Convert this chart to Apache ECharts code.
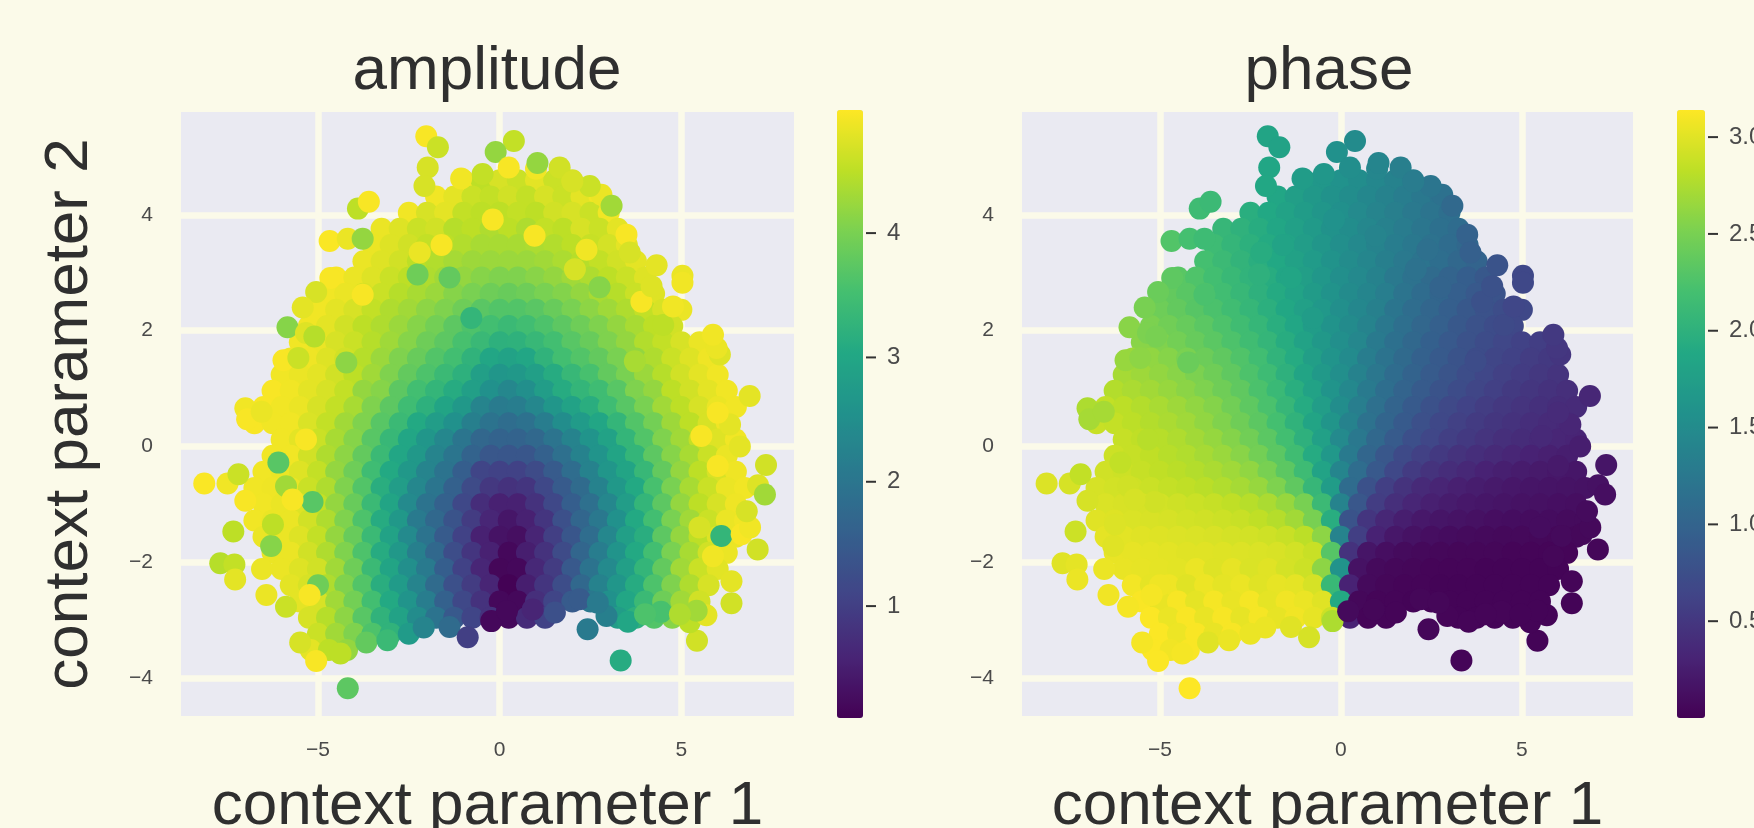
<!DOCTYPE html>
<html><head><meta charset="utf-8">
<style>html,body{margin:0;padding:0;background:#fbfae9;overflow:hidden}#c{width:1754px;height:828px}</style>
<script src="https://cdn.jsdelivr.net/npm/echarts@6/dist/echarts.min.js"></script>
</head><body><div id="c"></div>
<script>
// Each row: [context parameter 1, amplitude, phase].
const rowYs=[4.6,4.32,4.04,3.76,3.48,3.2,2.92,2.64,2.36,2.08,1.8,1.52,1.24,.96,.68,.4,.12,-.16,-.44,-.72,-1,-1.28,-1.56,-1.84,-2.12,-2.4,-2.68,-2.96,-3.24,-3.52];
const r00=[[-1,4.9,1.72],[-.5,4.5,1.65],[0,4.7,1.58],[.5,4.6,1.52],[1,4.8,1.45],[1.5,4.6,1.38],[2,4.7,1.32]];
const r01=[[-1.75,4.9,1.86],[-1.25,4.8,1.75],[-.75,4.6,1.67],[-.25,4.55,1.59],[.25,4.65,1.52],[.75,4.55,1.45],[1.25,4.7,1.38],[1.75,4.6,1.32],[2.25,4.8,1.25],[2.75,4.9,1.19]];
const r02=[[-2.5,4.9,1.96],[-2,4.7,1.88],[-1.5,4.8,1.8],[-1,4.55,1.72],[-.5,4.5,1.64],[0,4.5,1.56],[.5,4.55,1.48],[1,4.5,1.41],[1.5,4.65,1.34],[2,4.7,1.27],[2.5,4.6,1.21],[3,4.9,1.14]];
const r03=[[-3.25,4.85,2.08],[-2.75,4.75,2.01],[-2.25,4.6,1.94],[-1.75,4.65,1.85],[-1.25,4.45,1.77],[-.75,4.5,1.69],[-.25,4.4,1.59],[.25,4.5,1.52],[.75,4.4,1.44],[1.25,4.55,1.37],[1.75,4.5,1.3],[2.25,4.7,1.23],[2.75,4.6,1.16],[3.25,4.8,1.1]];
const r04=[[-3.5,4.85,2.14],[-3,4.75,2.06],[-2.5,4.65,1.99],[-2,4.55,1.91],[-1.5,4.5,1.82],[-1,4.42,1.73],[-.5,4.35,1.64],[0,4.35,1.55],[.5,4.35,1.47],[1,4.38,1.4],[1.5,4.42,1.32],[2,4.5,1.25],[2.5,4.58,1.18],[3,4.68,1.11],[3.5,4.8,1.05]];
const r05=[[-3.75,4.85,2.2],[-3.25,4.75,2.12],[-2.75,4.65,2.04],[-2.25,4.5,1.97],[-1.75,4.42,1.88],[-1.25,4.33,1.79],[-.75,4.27,1.7],[-.25,4.25,1.6],[.25,4.25,1.51],[.75,4.25,1.43],[1.25,4.3,1.35],[1.75,4.38,1.27],[2.25,4.45,1.2],[2.75,4.55,1.13],[3.25,4.65,1.06],[3.75,4.8,1]];
const r06=[[-4.5,4.95,2.32],[-4,4.85,2.26],[-3.5,4.75,2.18],[-3,4.6,2.1],[-2.5,4.5,2.03],[-2,4.4,1.94],[-1.5,4.3,1.84],[-1,4.2,1.75],[-.5,4.1,1.65],[0,4.05,1.55],[.5,4.05,1.47],[1,4.12,1.38],[1.5,4.2,1.27],[2,4.3,1.18],[2.5,4.4,1.09],[3,4.5,1],[3.5,4.6,.93],[4,4.75,.86]];
const r07=[[-4.75,4.9,2.38],[-4.25,4.85,2.32],[-3.75,4.7,2.25],[-3.25,4.6,2.17],[-2.75,4.45,2.09],[-2.25,4.35,2],[-1.75,4.25,1.91],[-1.25,4.1,1.81],[-.75,4,1.71],[-.25,3.9,1.6],[.25,3.85,1.5],[.75,3.9,1.42],[1.25,4,1.33],[1.75,4.08,1.2],[2.25,4.2,1.1],[2.75,4.35,1.02],[3.25,4.45,.94],[3.75,4.6,.87],[4.25,4.75,.8]];
const r08=[[-5,4.9,2.44],[-4.5,4.8,2.38],[-4,4.7,2.31],[-3.5,4.55,2.24],[-3,4.4,2.16],[-2.5,4.3,2.07],[-2,4.15,1.98],[-1.5,4.05,1.87],[-1,3.9,1.77],[-.5,3.72,1.66],[0,3.65,1.55],[.5,3.65,1.45],[1,3.72,1.36],[1.5,3.85,1.22],[2,4,1.12],[2.5,4.15,1.03],[3,4.28,.94],[3.5,4.4,.86],[4,4.55,.79],[4.5,4.7,.73],[5,4.85,.67]];
const r09=[[-5.25,4.9,2.52],[-4.75,4.8,2.46],[-4.25,4.65,2.4],[-3.75,4.5,2.33],[-3.25,4.4,2.25],[-2.75,4.25,2.16],[-2.25,4.1,2.07],[-1.75,3.95,1.96],[-1.25,3.75,1.85],[-.75,3.6,1.72],[-.25,3.5,1.6],[.25,3.4,1.5],[.75,3.48,1.4],[1.25,3.6,1.25],[1.75,3.75,1.14],[2.25,3.9,1.04],[2.75,4.05,.95],[3.25,4.2,.86],[3.75,4.35,.79],[4.25,4.5,.72],[4.75,4.65,.67]];
const r10=[[-5.5,4.9,2.58],[-5,4.85,2.54],[-4.5,4.7,2.47],[-4,4.6,2.4],[-3.5,4.45,2.33],[-3,4.28,2.25],[-2.5,4.1,2.16],[-2,3.9,2.06],[-1.5,3.75,1.94],[-1,3.55,1.8],[-.5,3.38,1.67],[0,3.2,1.55],[.5,3.22,1.44],[1,3.35,1.28],[1.5,3.5,1.16],[2,3.7,1.06],[2.5,3.85,.96],[3,4.05,.87],[3.5,4.2,.79],[4,4.42,.72],[4.5,4.55,.66],[5,4.7,.61],[5.5,4.85,.57]];
const r11=[[-5.75,4.9,2.68],[-5.25,4.88,2.62],[-4.75,4.75,2.57],[-4.25,4.65,2.51],[-3.75,4.45,2.43],[-3.25,4.25,2.36],[-2.75,4.05,2.27],[-2.25,3.85,2.17],[-1.75,3.65,2.03],[-1.25,3.5,1.92],[-.75,3.25,1.75],[-.25,3,1.61],[.25,2.9,1.49],[.75,3,1.32],[1.25,3.25,1.19],[1.75,3.5,1.08],[2.25,3.65,.97],[2.75,3.8,.88],[3.25,4,.8],[3.75,4.2,.72],[4.25,4.4,.65],[4.75,4.6,.61],[5.25,4.75,.56],[5.75,4.88,.52]];
const r12=[[-6,4.9,2.72],[-5.5,4.85,2.68],[-5,4.8,2.63],[-4.5,4.65,2.58],[-4,4.5,2.52],[-3.5,4.3,2.45],[-3,4.05,2.36],[-2.5,3.8,2.25],[-2,3.6,2.14],[-1.5,3.4,2],[-1,3.2,1.83],[-.5,2.85,1.68],[0,2.65,1.54],[.5,2.7,1.38],[1,2.85,1.24],[1.5,3.1,1.1],[2,3.35,.99],[2.5,3.55,.89],[3,3.8,.81],[3.5,4,.73],[4,4.25,.66],[4.5,4.45,.6],[5,4.65,.55],[5.5,4.8,.51],[6,4.9,.47]];
const r13=[[-6.25,4.95,2.78],[-5.75,4.9,2.74],[-5.25,4.8,2.7],[-4.75,4.7,2.65],[-4.25,4.55,2.59],[-3.75,4.2,2.53],[-3.25,4.1,2.45],[-2.75,3.75,2.36],[-2.25,3.5,2.24],[-1.75,3.3,2.11],[-1.25,3.1,1.96],[-.75,2.85,1.8],[-.25,2.55,1.61],[.25,2.35,1.46],[.75,2.5,1.28],[1.25,2.8,1.13],[1.75,3.1,1],[2.25,3.3,.89],[2.75,3.45,.8],[3.25,3.7,.72],[3.75,4.05,.65],[4.25,4.2,.59],[4.75,4.5,.53],[5.25,4.65,.49],[5.75,4.8,.45],[6.25,4.9,.42]];
const r14=[[-6.5,4.95,2.85],[-6,4.9,2.82],[-5.5,4.85,2.78],[-5,4.7,2.73],[-4.5,4.55,2.68],[-4,4.35,2.62],[-3.5,4.05,2.56],[-3,3.75,2.46],[-2.5,3.45,2.35],[-2,3.2,2.23],[-1.5,2.95,2.08],[-1,2.7,1.92],[-.5,2.3,1.73],[0,2.12,1.52],[.5,2.15,1.33],[1,2.35,1.15],[1.5,2.65,1],[2,2.9,.88],[2.5,3.15,.78],[3,3.45,.69],[3.5,3.7,.62],[4,4,.56],[4.5,4.3,.51],[5,4.5,.47],[5.5,4.7,.43],[6,4.85,.4],[6.5,4.9,.38]];
const r15=[[-6.75,4.95,2.88],[-6.25,4.9,2.86],[-5.75,4.9,2.82],[-5.25,4.72,2.78],[-4.75,4.55,2.74],[-4.25,4.3,2.69],[-3.75,4.05,2.62],[-3.25,3.7,2.54],[-2.75,3.4,2.45],[-2.25,3.05,2.34],[-1.75,2.8,2.2],[-1.25,2.55,2.02],[-.75,2.2,1.83],[-.25,1.95,1.63],[.25,1.85,1.38],[.75,1.92,1.18],[1.25,2.15,1.02],[1.75,2.47,.88],[2.25,2.75,.77],[2.75,3,.68],[3.25,3.3,.6],[3.75,3.65,.54],[4.25,3.95,.49],[4.75,4.27,.45],[5.25,4.5,.41],[5.75,4.7,.38],[6.25,4.88,.36]];
const r16=[[-6,4.9,2.87],[-5.5,4.8,2.84],[-5,4.6,2.8],[-4.5,4.35,2.76],[-4,4.1,2.7],[-3.5,3.7,2.64],[-3,3.35,2.56],[-2.5,3,2.46],[-2,2.65,2.33],[-1.5,2.35,2.18],[-1,2,2],[-.5,1.72,1.78],[0,1.65,1.48],[.5,1.65,1.26],[1,1.75,1.06],[1.5,1.98,.9],[2,2.28,.76],[2.5,2.6,.66],[3,2.9,.58],[3.5,3.3,.52],[4,3.65,.47],[4.5,4.05,.42],[5,4.3,.39],[5.5,4.55,.36],[6,4.75,.33],[6.5,4.9,.31]];
const r17=[[-6.25,4.9,2.9],[-5.75,4.9,2.87],[-5.25,4.65,2.84],[-4.75,4.4,2.8],[-4.25,4.15,2.77],[-3.75,3.8,2.72],[-3.25,3.4,2.66],[-2.75,3,2.58],[-2.25,2.7,2.47],[-1.75,2.3,2.33],[-1.25,2,2.16],[-.75,1.65,1.92],[-.25,1.42,1.66],[.25,1.4,1.28],[.75,1.4,1.03],[1.25,1.6,.85],[1.75,1.9,.7],[2.25,2.25,.6],[2.75,2.6,.52],[3.25,2.95,.46],[3.75,3.3,.41],[4.25,3.75,.37],[4.75,4.1,.33],[5.25,4.35,.3],[5.75,4.6,.28],[6.25,4.85,.26]];
const r18=[[-6.5,4.9,2.92],[-6,4.85,2.9],[-5.5,4.75,2.87],[-5,4.55,2.84],[-4.5,4.2,2.81],[-4,3.9,2.78],[-3.5,3.45,2.74],[-3,3.05,2.69],[-2.5,2.7,2.62],[-2,2.3,2.5],[-1.5,1.95,2.34],[-1,1.55,2.14],[-.5,1.1,1.82],[0,1.05,1.42],[.5,1.05,1.12],[1,1.2,.87],[1.5,1.5,.68],[2,1.85,.54],[2.5,2.25,.46],[3,2.65,.4],[3.5,2.95,.35],[4,3.35,.3],[4.5,3.8,.27],[5,4.2,.24],[5.5,4.5,.22],[6,4.7,.2],[6.5,4.88,.19]];
const r19=[[-6.75,4.9,2.95],[-6.25,4.88,2.93],[-5.75,4.85,2.91],[-5.25,4.6,2.89],[-4.75,4.4,2.86],[-4.25,4.05,2.84],[-3.75,3.65,2.81],[-3.25,3.15,2.77],[-2.75,2.8,2.72],[-2.25,2.35,2.65],[-1.75,2,2.53],[-1.25,1.6,2.36],[-.75,1.2,2.08],[-.25,.9,1.72],[.25,.8,1.1],[.75,.85,.78],[1.25,1.15,.58],[1.75,1.5,.46],[2.25,1.8,.37],[2.75,2.25,.32],[3.25,2.7,.28],[3.75,3.05,.25],[4.25,3.55,.22],[4.75,4,.2],[5.25,4.35,.18],[5.75,4.6,.17],[6.25,4.85,.16],[6.75,4.9,.15]];
const r20=[[-6.5,4.9,2.97],[-6,4.85,2.96],[-5.5,4.75,2.95],[-5,4.55,2.93],[-4.5,4.2,2.91],[-4,3.85,2.89],[-3.5,3.4,2.87],[-3,2.95,2.84],[-2.5,2.4,2.8],[-2,1.95,2.74],[-1.5,1.6,2.65],[-1,1.15,2.5],[-.5,.72,2.12],[0,.55,1.4],[.5,.55,.85],[1,.8,.56],[1.5,1.15,.42],[2,1.55,.33],[2.5,1.9,.28],[3,2.35,.24],[3.5,2.8,.21],[4,3.3,.19],[4.5,3.75,.17],[5,4.2,.15],[5.5,4.5,.14],[6,4.7,.13],[6.5,4.88,.12]];
const r21=[[-6.75,4.9,3],[-6.25,4.85,2.99],[-5.75,4.85,2.97],[-5.25,4.65,2.96],[-4.75,4.4,2.95],[-4.25,4.05,2.93],[-3.75,3.6,2.92],[-3.25,3.1,2.9],[-2.75,2.7,2.88],[-2.25,2.1,2.84],[-1.75,1.75,2.79],[-1.25,1.35,2.7],[-.75,.95,2.5],[-.25,.62,1.95],[.25,.4,.8],[.75,.55,.48],[1.25,.85,.34],[1.75,1.3,.26],[2.25,1.7,.21],[2.75,2.05,.18],[3.25,2.55,.16],[3.75,3.05,.14],[4.25,3.5,.12],[4.75,4,.11],[5.25,4.3,.1],[5.75,4.6,.1],[6.25,4.85,.09],[6.75,4.9,.09]];
const r22=[[-6.5,4.85,3.02],[-6,4.85,3.01],[-5.5,4.75,3],[-5,4.55,2.99],[-4.5,4.2,2.98],[-4,3.85,2.97],[-3.5,3.4,2.96],[-3,2.9,2.94],[-2.5,2.4,2.93],[-2,1.95,2.91],[-1.5,1.5,2.88],[-1,1.05,2.82],[-.5,.55,2.6],[0,.35,1.4],[.5,.3,.58],[1,.6,.3],[1.5,1,.2],[2,1.4,.15],[2.5,1.85,.12],[3,2.35,.1],[3.5,2.85,.09],[4,3.15,.08],[4.5,3.75,.07],[5,4.2,.07],[5.5,4.5,.06],[6,4.75,.06],[6.5,4.85,.06]];
const r23=[[-6.25,4.85,3.04],[-5.75,4.85,3.03],[-5.25,4.65,3.02],[-4.75,4.4,3.01],[-4.25,4.05,3],[-3.75,3.6,3],[-3.25,3.1,2.99],[-2.75,2.7,2.98],[-2.25,2.2,2.97],[-1.75,1.75,2.96],[-1.25,1.25,2.93],[-.75,.85,2.88],[-.25,.55,2.3],[.25,.2,.45],[.75,.5,.18],[1.25,.8,.12],[1.75,1.2,.09],[2.25,1.7,.07],[2.75,2.15,.06],[3.25,2.6,.05],[3.75,3.05,.05],[4.25,3.5,.05],[4.75,4,.04],[5.25,4.35,.04],[5.75,4.65,.04],[6.25,4.85,.04]];
const r24=[[-6,4.85,3.04],[-5.5,4.75,3.03],[-5,4.65,3.02],[-4.5,4.3,3.01],[-4,3.9,3.05],[-3.5,3.4,2.99],[-3,2.95,3.03],[-2.5,2.5,2.97],[-2,2.1,3],[-1.5,1.55,2.94],[-1,1.05,2.9],[-.5,.62,2.6],[0,.18,1.6],[.5,.2,.15],[1,.65,.08],[1.5,.95,.06],[2,1.45,.05],[2.5,1.95,.04],[3,2.4,.04],[3.5,2.85,.04],[4,3.3,.03],[4.5,3.8,.03],[5,4.3,.03],[5.5,4.6,.03],[6,4.78,.03]];
const r25=[[-5.75,4.8,3.09],[-5.25,4.7,3.02],[-4.75,4.4,3.07],[-4.25,4.05,3],[-3.75,3.65,3.06],[-3.25,3.15,3.02],[-2.75,2.75,3.05],[-2.25,2.3,3],[-1.75,1.8,3.03],[-1.25,1.3,3.02],[-.75,.95,2.95],[-.25,.6,2.1],[.25,.12,.3],[.75,.5,.08],[1.25,.85,.05],[1.75,1.25,.04],[2.25,1.75,.04],[2.75,2.25,.03],[3.25,2.65,.03],[3.75,3.1,.03],[4.25,3.6,.03],[4.75,4.05,.03],[5.25,4.4,.03],[5.75,4.7,.03]];
const r26=[[-5.5,4.8,3.12],[-5,4.7,3.04],[-4.5,4.3,3.11],[-4,3.95,3.02],[-3.5,3.5,3.1],[-3,3.05,3.04],[-2.5,2.6,3.1],[-2,2.15,3.02],[-1.5,1.6,3.08],[-1,1.15,3.05],[-.5,.8,3],[0,.2,1.9],[.5,.2,.06],[1,.75,.04],[1.5,1.1,.04],[2,1.5,.03],[2.5,2.05,.03],[3,2.55,.03],[3.5,3,.03],[4,3.4,.03],[4.5,3.9,.03],[5,4.3,.03],[5.5,4.65,.03]];
const r27=[[-5.25,4.7,3.13],[-4.75,4.45,3.05],[-4.25,4.15,3.12],[-3.75,3.7,3.04],[-3.25,3.25,3.11],[-2.75,2.9,3.03],[-2.25,2.45,3.1],[-1.75,1.95,3.03],[-1.25,1.45,3.08],[-.75,1.1,3.03],[-.25,.8,2.9],[.25,.2,.3],[.75,.7,.04],[1.25,1.05,.04],[3.25,2.8,.03],[3.75,3.2,.03],[4.25,3.65,.03],[4.75,4.1,.03],[5.25,4.5,.03]];
const r28=[[-5,4.6,3.13],[-4.5,4.3,3.06],[-4,4.05,3.12],[-3.5,3.6,3.04],[-3,3.25,3.11],[-2.5,2.75,3.05]];
const r29=[[-5.2,4.8,3.13],[-4.7,4.5,3.08],[-4.2,4.2,3.12]];
const rows=[r00,r01,r02,r03,r04,r05,r06,r07,r08,r09,r10,r11,r12,r13,r14,r15,r16,r17,r18,r19,r20,r21,r22,r23,r24,r25,r26,r27,r28,r29];
// Individually visible dots: [x, y, amplitude, phase]
const innerDots=[[-2.26,2.97,3.9,2],[-1.38,2.92,3.8,1.84],[-1.6,3.48,4.95,1.82],[-2.2,3.35,4.85,1.94],[.96,3.64,4.95,1.41],[-.78,2.22,3.3,1.72],[-.19,3.92,4.95,1.58],[2.39,3.4,4.9,1.15],[2.07,3.06,4.7,1.18],[-3.77,2.62,4.95,2.23],[-5.88,-.69,4.3,2.92],[-6.29,-1.72,4.1,3],[-5,-2.4,3.9,3.07],[-5.15,-.96,3.7,2.92],[-6.24,-1.35,4.5,2.98],[-5.33,.12,4.95,2.8],[-5.7,-.92,4.95,2.95],[-5.23,-2.57,4.95,3.1],[6.1,-1.55,3.3,.08],[5.87,-1.9,4.9,.05],[6,-.34,4.95,.22],[5.55,.18,4.95,.36],[5.5,-1.4,4.7,.1],[3.72,1.47,4.35,.72],[4.5,2.1,4.5,.7],[2.75,2.75,4.1,1],[-4.22,1.45,4.15,2.42]];
const topDots=[[-2.02,5.36,4.95,1.83],[-1.7,5.17,4.6,1.8],[-1.98,4.82,4.7,1.85],[-2.07,4.5,4.7,1.87],[.39,5.28,4.55,1.5],[-.11,5.09,4.2,1.57],[1,4.8,4.9,1.43],[1.04,4.9,4.2,1.42],[1.65,4.82,4.65,1.34],[.25,4.82,4.95,1.53],[-.47,4.71,4.55,1.65],[-1.06,4.63,4.9,1.72],[2.8,4.35,4.85,1.17],[2.48,4.5,4.6,1.22],[2,4.58,4.7,1.3],[3.08,4.16,4.3,1.07],[-3.9,4.11,4.5,2.15],[-3.6,4.23,4.95,2.12]];
const leftDots=[[-4.68,3.55,4.97,2.28],[-4.18,3.59,4.85,2.2],[-3.77,3.59,4.2,2.14],[-4.66,2.91,4.95,2.35],[-5.05,2.67,4.7,2.42],[-5.42,2.4,4.8,2.5],[-5.84,2.06,4.1,2.58],[-5.33,1.96,4.75,2.52],[-5.1,1.9,4.45,2.5],[-5.95,1.49,4.95,2.65],[-5.54,1.53,4.6,2.6],[-7,.66,4.9,2.75],[-6.95,.47,4.95,2.72],[-6.55,.6,4.85,2.72],[-8.13,-.64,4.97,2.98],[-7.49,-.64,4.9,2.95],[-7.19,-.48,4.6,2.85],[-7,-.94,4.95,2.95],[-7.33,-1.47,4.5,2.9],[-7.69,-2.02,4.45,3],[-7.3,-2.04,4.55,3.02],[-7.28,-2.3,4.8,3.05],[-6.42,-2.57,4.85,3.08],[-6.54,-2.12,4.85,3.05],[-6.09,-.28,3.7,2.85],[-5.88,-2.77,4.6,3.1]];
const bottomDots=[[-5.49,-3.39,4.7,3.1],[-5.05,-3.71,4.95,3.13],[-4.38,-3.58,4.5,3.1],[-3.67,-3.39,3.8,3],[-3.09,-3.35,3.4,3.05],[-4.18,-4.18,3.75,3.14],[-2.09,-3.13,2.3,3.05],[-1.38,-3.12,1.8,3],[-.88,-3.3,1,2.95],[-.23,-3.02,.2,2.75],[.2,-2.85,.2,.08],[.91,-2.82,.6,.05],[1.52,-2.87,1.3,.04],[2.2,-2.64,1.5,.05],[2.42,-3.16,2.1,.05],[2.94,-2.93,2.2,.04],[2.7,-2.7,2.1,.05],[3.33,-3.7,3.1,.04],[3.53,-3.03,3,.04],[4.44,-2.86,3.55,.04],[4,-2.9,3.6,.04]];
const rightDots=[[5.43,-3.36,4.65,.03],[5.23,-3.04,4.5,.03],[5.69,-2.92,4.8,.03],[5.42,-2.84,4.3,.03],[4.96,-2.9,4.4,.03],[6.38,-2.71,4.65,.03],[6.38,-2.33,4.8,.04],[7.1,-1.78,4.65,.05],[6.66,-1.52,4.95,.06],[6.89,-1.4,4.9,.07],[6.8,-1.12,4.7,.09],[7.11,-.67,4.75,.14],[7.3,-.83,4.3,.12],[7.33,-.32,4.65,.18],[6.61,0,4.8,.26],[6.34,.38,4.8,.33],[6,.58,4.95,.38],[6.88,.87,4.8,.34],[6.06,1.59,4.75,.48],[5.97,1.7,4.85,.5],[5.87,1.93,4.9,.52],[4.77,2.42,4.9,.66],[5.03,2.95,4.85,.68],[5.03,2.83,4.9,.68],[4.32,3.13,4.8,.8],[3.9,2.5,4.95,.78],[4.18,2.77,4.75,.78],[3.49,3.66,4.95,.98],[3.58,3.35,4.7,.95]];
const xTicks=[-5,0,5];
const yTicks=[-4,-2,0,2,4];
const ampTicks=[1,2,3,4];
const phaseTicks=[0.5,1,1.5,2,2.5,3];
const viridis=['#440154','#482475','#414487','#355f8d','#2a788e','#21918c','#22a884','#44bf70','#7ad151','#bddf26','#fde725'];

const points=[];
rows.forEach((row,i)=>row.forEach(p=>points.push([p[0],rowYs[i],p[1],p[2]])));
[innerDots,topDots,leftDots,bottomDots,rightDots].forEach(l=>l.forEach(p=>points.push(p)));

const bg='#fbfae9',txt='#2f2f2f',tick='#4a4a4a';
const fam='"Liberation Sans",Arial,sans-serif';
const minus=v=>String(v).replace('-','\u2212');
function mainAxes(gi,xr,withY){return {
 x:{gridIndex:gi,type:'value',min:xr[0],max:xr[1],name:'context parameter 1',nameLocation:'middle',nameGap:60,
    nameTextStyle:{fontSize:62,color:txt,fontFamily:fam},axisLine:{show:false},
    axisTick:{show:false,customValues:xTicks},axisLabel:{customValues:xTicks,formatter:minus,fontSize:21,color:tick,fontFamily:fam,margin:24},
    splitLine:{show:true,lineStyle:{color:bg,width:6.5}}},
 y:{gridIndex:gi,type:'value',min:-4.66,max:5.78,name:withY?'context parameter 2':'',nameLocation:'middle',nameGap:80,
    nameTextStyle:{fontSize:62,color:txt,fontFamily:fam},axisLine:{show:false},
    axisTick:{show:false,customValues:yTicks},axisLabel:{customValues:yTicks,formatter:minus,fontSize:21,color:tick,fontFamily:fam,margin:28},
    splitLine:{show:true,lineStyle:{color:bg,width:6.5}}}};}
const a0=mainAxes(0,[-8.77,8.1],true),a1=mainAxes(1,[-8.81,8.07],false);
function barAxes(gi,lo,hi,ticks,fmt){return {
 x:{gridIndex:gi,type:'value',show:false,min:0,max:1},
 y:{gridIndex:gi,type:'value',position:'right',min:lo,max:hi,axisLine:{show:false},splitLine:{show:false},
    axisTick:{show:false,customValues:ticks},
    axisLabel:{customValues:ticks,formatter:fmt,fontSize:24,color:tick,fontFamily:fam,margin:21}}};}
const b0=barAxes(2,0.1,4.99,ampTicks,v=>String(v)),b1=barAxes(3,0,3.14,phaseTicks,v=>Number(v).toFixed(1));
function vm(series,lo,hi,left,width){return {type:'continuous',seriesIndex:series,dimension:2,min:lo,max:hi,left:left,top:110,itemWidth:width,itemHeight:608,padding:0,
  calculable:false,hoverLink:false,showLabel:false,inRange:{color:viridis},textStyle:{fontSize:0}};}
function tickSeries(gi,ticks){return {type:'scatter',xAxisIndex:gi,yAxisIndex:gi,symbol:'rect',symbolSize:[10,2],symbolOffset:[5,0],silent:true,clip:false,
  itemStyle:{color:'#333',opacity:1},data:ticks.map(v=>[1,v])};}
const gridBase={show:true,backgroundColor:'#eaeaf2',borderWidth:0,containLabel:false,outerBoundsMode:'none'};
const chart=echarts.init(document.getElementById('c'),null,{renderer:'canvas'});
chart.setOption({
 animation:false,backgroundColor:bg,tooltip:{show:false},
 title:[
  {text:'amplitude',left:482,top:36,textAlign:'center',textStyle:{fontSize:62,fontWeight:'normal',color:txt,fontFamily:fam}},
  {text:'phase',left:1324,top:36,textAlign:'center',textStyle:{fontSize:62,fontWeight:'normal',color:txt,fontFamily:fam}}],
 grid:[
  Object.assign({left:181,top:112,width:613,height:604},gridBase),
  Object.assign({left:1022,top:112,width:611,height:604},gridBase),
  {left:837,top:110,width:29,height:608,outerBoundsMode:'none'},
  {left:1677,top:110,width:31,height:608,outerBoundsMode:'none'}],
 xAxis:[a0.x,a1.x,b0.x,b1.x],
 yAxis:[a0.y,a1.y,b0.y,b1.y],
 visualMap:[vm(0,0.1,4.99,837,26),vm(1,0,3.14,1677,28)],
 series:[
  {type:'scatter',xAxisIndex:0,yAxisIndex:0,symbolSize:22,data:points.map(p=>[p[0],p[1],p[2]]),itemStyle:{opacity:1},silent:true,progressive:0},
  {type:'scatter',xAxisIndex:1,yAxisIndex:1,symbolSize:22,data:points.map(p=>[p[0],p[1],p[3]]),itemStyle:{opacity:1},silent:true,progressive:0},
  tickSeries(2,ampTicks),tickSeries(3,phaseTicks)]
});
</script></body></html>
